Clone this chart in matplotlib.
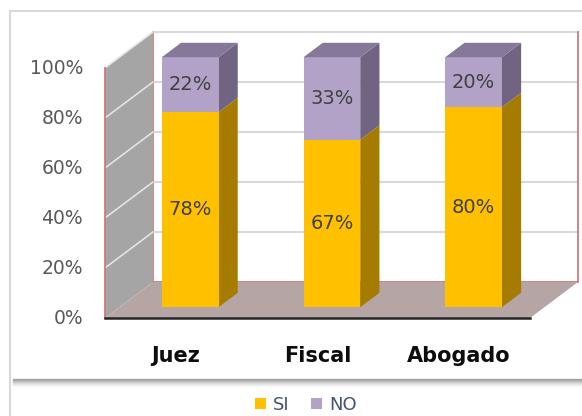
import matplotlib.pyplot as plt
from matplotlib.patches import Polygon, Patch

categories = ["Juez", "Fiscal", "Abogado"]
si_values = [78, 67, 80]
no_values = [22, 33, 20]
y_ticks = [0, 20, 40, 60, 80, 100]

# colours (front, side, top)
SI_COLORS = ("#FFC000", "#A67C00", "#C99700")
NO_COLORS = ("#B3A2C7", "#716483", "#857899")
FONT = "DejaVu Sans"

# pixel layout of the oblique "3D" projection
W, H = 582, 416
X0_PX, CAT_PX = 175.8, 141.7   # centre of first category, px per category
Y0_PX, PCT_PX = 318, 2.5       # floor front edge, px per percent
DX, DY = 48 / CAT_PX, 36 / PCT_PX  # full depth in data units
BAR_W = 0.4
D_FRONT, D_BACK = 0.3, 0.7

fig = plt.figure(figsize=(W / 100, H / 100), dpi=100)
ax = fig.add_axes([0, 0, 1, 1])
ax.axis("off")
ax.set_xlim(-X0_PX / CAT_PX, (W - X0_PX) / CAT_PX)
ax.set_ylim((Y0_PX - H) / PCT_PX, Y0_PX / PCT_PX)


def px(x, y):
    # pixel position -> axes fraction
    return x / W, 1 - y / H


def shift(x, y, d):
    return x + d * DX, y + d * DY


# chart frame and plot area shadow
ax.plot(*zip(px(10, 11), px(10, H)), transform=ax.transAxes, color="#D9D9D9", lw=1.5)
ax.plot(*zip(px(10, 11), px(W, 11)), transform=ax.transAxes, color="#D9D9D9", lw=1.5)
for k in range(9):
    ax.plot(*zip(px(13, 379 + k), px(W, 379 + k)), transform=ax.transAxes,
            color="#6F6F6F", alpha=0.6 * (1 - k / 9) ** 2, lw=1)

left, right = -0.5, len(categories) - 0.5
top = max(y_ticks)

# back wall
back = [shift(left, 0, 1), shift(right, 0, 1), shift(right, top, 1), shift(left, top, 1)]
ax.add_patch(Polygon(back, closed=True, facecolor="white", edgecolor="none", zorder=1))
for t in y_ticks:
    ax.plot(*zip(shift(left, t, 1), shift(right, t, 1)), color="#D9D9D9", lw=1.5, zorder=2)
ax.plot(*zip(shift(left, top, 1), shift(left, 0, 1), shift(right, 0, 1), shift(right, top, 1)),
        color="#D27A78", lw=1.3, zorder=2)

# left wall
lwall = [(left, 0), shift(left, 0, 1), shift(left, top, 1), (left, top)]
ax.add_patch(Polygon(lwall, closed=True, facecolor="#A5A5A5", edgecolor="none", zorder=3))
for t in y_ticks[1:]:
    ax.plot(*zip((left, t), shift(left, t, 1)), color="#E3E3E3", lw=1.2, zorder=4)
ax.plot([left, left], [0, top], color="#D27A78", lw=1.3, zorder=4)

# floor
floor = [(left, 0), (right, 0), shift(right, 0, 1), shift(left, 0, 1)]
ax.add_patch(Polygon(floor, closed=True, facecolor="#B5A5A5", edgecolor="none", zorder=3))
ax.plot([left, right], [0, 0], color="#262626", lw=1.8, zorder=4)


def draw_segment(i, bottom, height, colors, with_top):
    front, side, topc = colors
    x0, x1 = i - BAR_W / 2, i + BAR_W / 2
    b, t = bottom, bottom + height
    face = [shift(x0, b, D_FRONT), shift(x1, b, D_FRONT), shift(x1, t, D_FRONT), shift(x0, t, D_FRONT)]
    sidep = [shift(x1, b, D_FRONT), shift(x1, b, D_BACK), shift(x1, t, D_BACK), shift(x1, t, D_FRONT)]
    ax.add_patch(Polygon(sidep, closed=True, facecolor=side, edgecolor="none", zorder=5))
    ax.add_patch(Polygon(face, closed=True, facecolor=front, edgecolor="none", zorder=6))
    if with_top:
        topp = [shift(x0, t, D_FRONT), shift(x1, t, D_FRONT), shift(x1, t, D_BACK), shift(x0, t, D_BACK)]
        ax.add_patch(Polygon(topp, closed=True, facecolor=topc, edgecolor="none", zorder=6))
    cx, cy = shift(i, b + height / 2, D_FRONT)
    ax.text(cx, cy, f"{height}%", ha="center", va="center", fontsize=14,
            color="#404040", family=FONT, zorder=7)


for i, (s, n) in enumerate(zip(si_values, no_values)):
    draw_segment(i, 0, s, SI_COLORS, False)
    draw_segment(i, s, n, NO_COLORS, True)

# y tick labels
for t in y_ticks:
    ax.text(left - 0.155, t, f"{t}%", ha="right", va="center", fontsize=13.5,
            color="#595959", family=FONT)

# category labels
for i, c in enumerate(categories):
    ax.text(i, -15.2, c, ha="center", va="center", fontsize=15,
            fontweight="bold", color="#0D0D0D", family=FONT)

handles = [Patch(facecolor=SI_COLORS[0], label="SI"), Patch(facecolor=NO_COLORS[0], label="NO")]
fig.legend(handles=handles, loc="center", bbox_to_anchor=px(306, 405), ncol=2,
           frameon=False, handlelength=0.6, handleheight=0.6, handletextpad=0.4,
           columnspacing=1.2, labelcolor="#44546A", prop={"family": FONT, "size": 13})

fig.savefig("out.png", dpi=100)
